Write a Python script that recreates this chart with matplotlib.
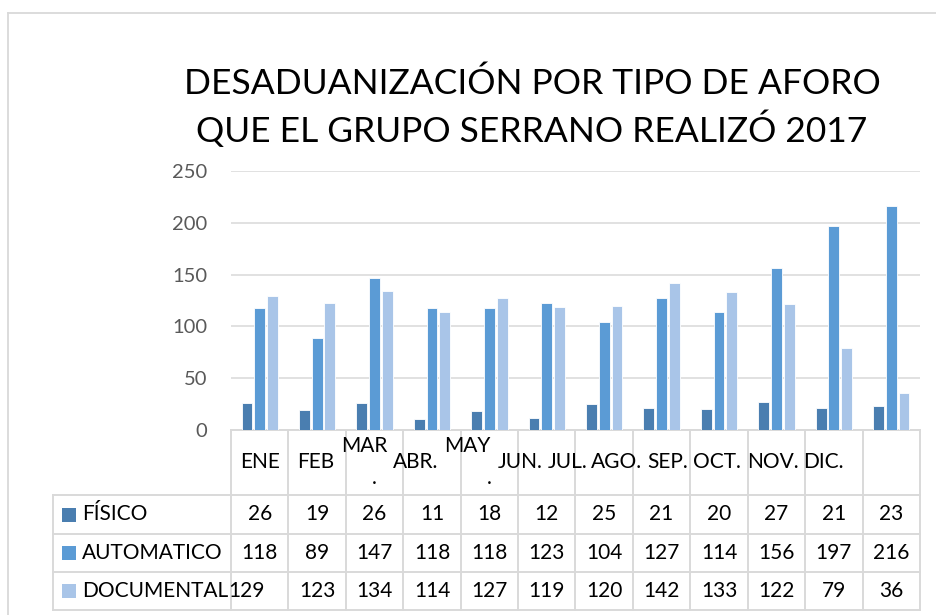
import matplotlib
matplotlib.use("Agg")
import matplotlib.pyplot as plt
import matplotlib.patches as patches
from matplotlib.lines import Line2D
import numpy as np

plt.rcParams['font.family'] = ['Lato', 'DejaVu Sans']

# data
months = ['ENE', 'FEB', 'MAR.', 'ABR.', 'MAY.', 'JUN.', 'JUL.', 'AGO.', 'SEP.', 'OCT.', 'NOV.', 'DIC.']
series_names = ['FÍSICO', 'AUTOMATICO', 'DOCUMENTAL']
fisico = [26, 19, 26, 11, 18, 12, 25, 21, 20, 27, 21, 23]
automatico = [118, 89, 147, 118, 118, 123, 104, 127, 114, 156, 197, 216]
documental = [129, 123, 134, 114, 127, 119, 120, 142, 133, 122, 79, 36]
yticks = [0, 50, 100, 150, 200, 250]

colors = ['#4a7eb0', '#5b9bd5', '#a9c5e8']
grid_c = '#d9d9d9'

# header label nudges (the month labels drift left in the original)
label_shift = [0, -0.03, -0.18, -0.29, -0.38, -0.47, -0.64, -0.78, -0.89, -1.03, -1.06, -1.18]
wrapped = {2, 4}  # labels that break as "MAR" / "."
value_nudge = {(2, 0): -0.23}  # DOCUMENTAL / ENE sits left in the original

W, H = 937, 615
fig = plt.figure(figsize=(W / 100, H / 100), dpi=100)
fig.patch.set_facecolor('white')

# outer chart border (top and left edges only visible)
fig.add_artist(Line2D([8 / W, 1], [1 - 13 / H, 1 - 13 / H], color=grid_c, lw=1.3))
fig.add_artist(Line2D([8 / W, 8 / W], [0, 1 - 13 / H], color=grid_c, lw=1.3))

# title
fig.text(532 / W, 1 - 94 / H, 'DESADUANIZACIÓN POR TIPO DE AFORO', ha='center', va='baseline',
         fontsize=25.5, color='black')
fig.text(532 / W, 1 - 142 / H, 'QUE EL GRUPO SERRANO REALIZÓ 2017', ha='center', va='baseline',
         fontsize=25.5, color='black')

# plot area: x 231..920 px, y 171..430 px
x0, x1, ytop, ybot = 231, 920, 171, 430
ax = fig.add_axes([x0 / W, 1 - ybot / H, (x1 - x0) / W, (ybot - ytop) / H])
n = len(months)
ax.set_xlim(0, n)
ax.set_ylim(0, 250)
for s in ax.spines.values():
    s.set_visible(False)
ax.set_xticks([])
ax.set_yticks(yticks)
ax.tick_params(axis='y', length=0, pad=17, labelsize=14.5, labelcolor='#595959')
ax.grid(axis='y', color=grid_c, lw=1.1)
ax.set_axisbelow(True)

x = np.arange(n) + 0.5
bw = 0.19
for k, vals in enumerate([fisico, automatico, documental]):
    ax.bar(x + (k - 1) * 0.222, vals, width=bw, color=colors[k], edgecolor='white',
           linewidth=0.6, zorder=3)

# data table below the plot, x in category units, y in axes fraction
cell_px = (x1 - x0) / n
tr = ax.get_xaxis_transform()


def fy(ypx):
    return (ybot - ypx) / (ybot - ytop)


left = (53 - x0) / cell_px
row_edges = [495, 534, 572, 610]
lw_t = 1.4
fs = 15

# horizontal lines
ax.add_line(Line2D([0, n], [fy(430), fy(430)], transform=tr, color=grid_c, lw=lw_t, clip_on=False))
for r in row_edges:
    ax.add_line(Line2D([left, n], [fy(r), fy(r)], transform=tr, color=grid_c, lw=lw_t, clip_on=False))
# vertical lines
for i in range(n + 1):
    ax.add_line(Line2D([i, i], [fy(430), fy(610)], transform=tr, color=grid_c, lw=lw_t, clip_on=False))
ax.add_line(Line2D([left, left], [fy(495), fy(610)], transform=tr, color=grid_c, lw=lw_t, clip_on=False))

# header labels
for i, m in enumerate(months):
    if i in wrapped:
        ax.text(x[i] + label_shift[i], fy(446), m[:-1], transform=tr, ha='center', va='center',
                fontsize=fs, clip_on=False)
        ax.text(x[i], fy(478), m[-1], transform=tr, ha='center', va='center',
                fontsize=fs, clip_on=False)
    else:
        ax.text(x[i] + label_shift[i], fy(462), m, transform=tr, ha='center', va='center',
                fontsize=fs, clip_on=False)

# rows: legend key, name, values
row_centers = [514.5, 553, 591]
key_px = 14
for k, (name, vals) in enumerate(zip(series_names, [fisico, automatico, documental])):
    yc = row_centers[k]
    ax.add_patch(patches.Rectangle(((62 - x0) / cell_px, fy(yc + key_px / 2)), key_px / cell_px,
                                   key_px / (ybot - ytop), transform=tr, facecolor=colors[k],
                                   edgecolor='none', clip_on=False))
    ax.text((82 - x0) / cell_px, fy(yc), name, transform=tr, ha='left', va='center',
            fontsize=fs, clip_on=False)
    for i, v in enumerate(vals):
        ax.text(x[i] + value_nudge.get((k, i), 0), fy(yc), str(v), transform=tr,
                ha='center', va='center', fontsize=fs, clip_on=False)

fig.savefig('out.png', dpi=100, facecolor='white')
